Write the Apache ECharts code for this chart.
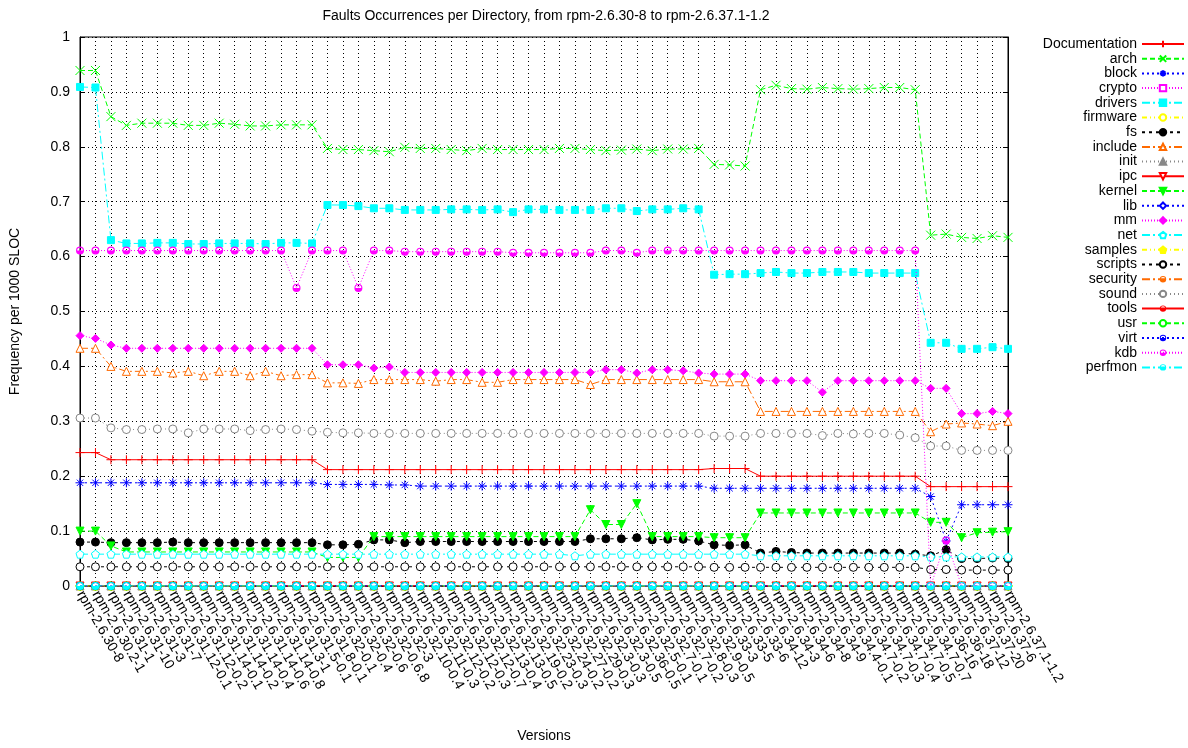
<!DOCTYPE html>
<html>
<head>
<meta charset="utf-8">
<script src="https://cdn.jsdelivr.net/npm/echarts@6/dist/echarts.min.js"></script>
<style>
  html, body { margin: 0; padding: 0; background: #fff; }
  #chart { width: 1188px; height: 748px; }
</style>
</head>
<body>
<div id="chart"></div>
<script>
// versions on the x axis
const versions = [
  'rpm-2.6.30-8', 'rpm-2.6.30.2-1', 'rpm-2.6.31-1', 'rpm-2.6.31-10', 'rpm-2.6.31-3', 'rpm-2.6.31-7',
  'rpm-2.6.31.12-0.1', 'rpm-2.6.31.12-0.2', 'rpm-2.6.31.14-0.1', 'rpm-2.6.31.14-0.2', 'rpm-2.6.31.14-0.4',
  'rpm-2.6.31.14-0.6', 'rpm-2.6.31.14-0.8', 'rpm-2.6.31.3-1', 'rpm-2.6.31.5-0.1', 'rpm-2.6.31.8-0.1',
  'rpm-2.6.32-0.1', 'rpm-2.6.32-0.4', 'rpm-2.6.32-0.6', 'rpm-2.6.32-0.6.8', 'rpm-2.6.32-3',
  'rpm-2.6.32.10-0.4', 'rpm-2.6.32.11-0.3', 'rpm-2.6.32.12-0.2', 'rpm-2.6.32.12-0.3', 'rpm-2.6.32.12-0.7',
  'rpm-2.6.32.13-0.4', 'rpm-2.6.32.13-0.5', 'rpm-2.6.32.19-0.2', 'rpm-2.6.32.23-0.3', 'rpm-2.6.32.24-0.2',
  'rpm-2.6.32.27-0.2', 'rpm-2.6.32.29-0.3', 'rpm-2.6.32.3-0.3', 'rpm-2.6.32.3-0.5', 'rpm-2.6.32.36-0.5',
  'rpm-2.6.32.5-0.1', 'rpm-2.6.32.7-0.1', 'rpm-2.6.32.7-0.2', 'rpm-2.6.32.8-0.3', 'rpm-2.6.32.9-0.5',
  'rpm-2.6.33-3', 'rpm-2.6.33-5', 'rpm-2.6.33-6',
  'rpm-2.6.34-12', 'rpm-2.6.34-3', 'rpm-2.6.34-6', 'rpm-2.6.34-8', 'rpm-2.6.34-9', 'rpm-2.6.34.4-0.1',
  'rpm-2.6.34.7-0.2', 'rpm-2.6.34.7-0.3', 'rpm-2.6.34.7-0.4', 'rpm-2.6.34.7-0.5', 'rpm-2.6.34.7-0.7',
  'rpm-2.6.36-16', 'rpm-2.6.36-18', 'rpm-2.6.37-12', 'rpm-2.6.37-20', 'rpm-2.6.37-6', 'rpm-2.6.37.1-1.2'
];

const yTicks = ['0', '0.1', '0.2', '0.3', '0.4', '0.5', '0.6', '0.7', '0.8', '0.9', '1'];

const documentation = [
  0.243, 0.243, 0.230, 0.230, 0.230, 0.230, 0.230, 0.230, 0.230, 0.230, 0.230, 0.230, 0.230, 0.230, 0.230, 0.230,
  0.212, 0.212, 0.212, 0.212, 0.212, 0.212, 0.212, 0.212, 0.212, 0.212, 0.212, 0.212, 0.212, 0.212, 0.212, 0.212,
  0.212, 0.212, 0.212, 0.212, 0.212, 0.212, 0.212, 0.212, 0.212,
  0.214, 0.214, 0.214,
  0.200, 0.200, 0.200, 0.200, 0.200, 0.200, 0.200, 0.200, 0.200, 0.200, 0.200,
  0.181, 0.181, 0.181, 0.181, 0.181, 0.181
];
const arch = [
  0.939, 0.939, 0.855, 0.839, 0.843, 0.843, 0.843, 0.839, 0.839, 0.843, 0.841, 0.838, 0.838, 0.840, 0.840, 0.840,
  0.797, 0.795, 0.795, 0.793, 0.791, 0.799, 0.797, 0.797, 0.795, 0.793, 0.797, 0.795, 0.795, 0.795, 0.795, 0.797,
  0.797, 0.795, 0.793, 0.794, 0.796, 0.793, 0.796, 0.796, 0.797,
  0.768, 0.767, 0.765,
  0.904, 0.912, 0.906, 0.905, 0.908, 0.906, 0.905, 0.906, 0.908, 0.908, 0.904,
  0.639, 0.641, 0.635, 0.633, 0.638, 0.635
];
const block = [
  0.188, 0.188, 0.188, 0.188, 0.188, 0.188, 0.188, 0.188, 0.188, 0.188, 0.188, 0.188, 0.188, 0.188, 0.188, 0.188,
  0.185, 0.185, 0.185, 0.185, 0.184, 0.184, 0.182, 0.182, 0.182, 0.182, 0.182, 0.182, 0.182, 0.182, 0.182, 0.182,
  0.182, 0.182, 0.182, 0.182, 0.182, 0.182, 0.182, 0.182, 0.182,
  0.178, 0.178, 0.178,
  0.178, 0.178, 0.178, 0.178, 0.178, 0.178, 0.178, 0.178, 0.178, 0.178, 0.178,
  0.163, 0.082, 0.148, 0.148, 0.148, 0.148
];
const drivers = [
  0.909, 0.908, 0.630, 0.624, 0.624, 0.625, 0.625, 0.623, 0.623, 0.624, 0.624, 0.624, 0.623, 0.625, 0.625, 0.624,
  0.694, 0.694, 0.692, 0.688, 0.688, 0.685, 0.685, 0.685, 0.686, 0.686, 0.685, 0.686, 0.681, 0.686, 0.686, 0.685,
  0.685, 0.685, 0.688, 0.688, 0.683, 0.686, 0.686, 0.688, 0.686,
  0.567, 0.568, 0.568,
  0.570, 0.572, 0.570, 0.570, 0.572, 0.572, 0.572, 0.570, 0.570, 0.570, 0.570,
  0.443, 0.443, 0.432, 0.432, 0.435, 0.432
];
const fs = [
  0.080, 0.080, 0.079, 0.079, 0.079, 0.079, 0.080, 0.079, 0.079, 0.079, 0.079, 0.079, 0.079, 0.079, 0.079, 0.079,
  0.075, 0.075, 0.076, 0.084, 0.084, 0.079, 0.081, 0.081, 0.081, 0.081, 0.081, 0.081, 0.081, 0.081, 0.081, 0.081,
  0.081, 0.086, 0.086, 0.086, 0.088, 0.084, 0.085, 0.085, 0.082,
  0.075, 0.074, 0.075,
  0.060, 0.063, 0.061, 0.060, 0.060, 0.060, 0.060, 0.060, 0.060, 0.060, 0.058,
  0.055, 0.066, 0.050, 0.050, 0.051, 0.050
];
const include = [
  0.433, 0.433, 0.400, 0.391, 0.391, 0.391, 0.388, 0.391, 0.383, 0.391, 0.391, 0.383, 0.391, 0.383, 0.385, 0.385,
  0.370, 0.370, 0.369, 0.376, 0.376, 0.376, 0.376, 0.373, 0.376, 0.376, 0.371, 0.371, 0.376, 0.376, 0.376, 0.376,
  0.376, 0.367, 0.376, 0.376, 0.376, 0.376, 0.376, 0.376, 0.376,
  0.372, 0.372, 0.372,
  0.318, 0.318, 0.318, 0.318, 0.318, 0.318, 0.318, 0.318, 0.318, 0.318, 0.318,
  0.281, 0.295, 0.297, 0.295, 0.292, 0.300
];
const kernel = [
  0.100, 0.100, 0.073, 0.062, 0.062, 0.062, 0.062, 0.062, 0.062, 0.062, 0.062, 0.062, 0.062, 0.062, 0.062, 0.062,
  0.052, 0.052, 0.052, 0.090, 0.090, 0.090, 0.090, 0.090, 0.090, 0.090, 0.090, 0.090, 0.090, 0.090, 0.090, 0.090,
  0.090, 0.139, 0.112, 0.112, 0.150, 0.090, 0.090, 0.090, 0.090,
  0.088, 0.088, 0.088,
  0.133, 0.133, 0.133, 0.133, 0.133, 0.133, 0.133, 0.133, 0.133, 0.133, 0.133,
  0.116, 0.116, 0.088, 0.097, 0.098, 0.099
];
const mm = [
  0.456, 0.451, 0.439, 0.433, 0.433, 0.433, 0.433, 0.433, 0.433, 0.433, 0.433, 0.433, 0.433, 0.433, 0.433, 0.433,
  0.403, 0.403, 0.403, 0.397, 0.399, 0.389, 0.389, 0.389, 0.389, 0.389, 0.389, 0.389, 0.389, 0.389, 0.389, 0.389,
  0.389, 0.389, 0.394, 0.394, 0.388, 0.394, 0.394, 0.392, 0.388,
  0.386, 0.386, 0.386,
  0.374, 0.374, 0.374, 0.374, 0.353, 0.374, 0.374, 0.374, 0.374, 0.374, 0.374,
  0.360, 0.360, 0.314, 0.314, 0.318, 0.314
];
const net = [
  0.058, 0.058, 0.058, 0.058, 0.058, 0.058, 0.058, 0.058, 0.058, 0.058, 0.058, 0.058, 0.058, 0.058, 0.058, 0.058,
  0.058, 0.058, 0.058, 0.058, 0.058, 0.058, 0.058, 0.058, 0.058, 0.058, 0.058, 0.058, 0.058, 0.058, 0.058, 0.058,
  0.055, 0.058, 0.058, 0.058, 0.058, 0.058, 0.058, 0.058, 0.058,
  0.058, 0.058, 0.058,
  0.055, 0.055, 0.055, 0.055, 0.055, 0.055, 0.055, 0.055, 0.055, 0.055, 0.055,
  0.053, 0.053, 0.053, 0.053, 0.053, 0.053
];
const scripts = [
  0.035, 0.035, 0.035, 0.035, 0.035, 0.035, 0.035, 0.035, 0.035, 0.035, 0.035, 0.035, 0.035, 0.035, 0.035, 0.035,
  0.035, 0.035, 0.035, 0.035, 0.035, 0.035, 0.035, 0.035, 0.035, 0.035, 0.035, 0.035, 0.035, 0.035, 0.035, 0.035,
  0.035, 0.035, 0.035, 0.035, 0.035, 0.035, 0.035, 0.035, 0.035,
  0.034, 0.034, 0.034,
  0.034, 0.034, 0.034, 0.034, 0.034, 0.034, 0.034, 0.034, 0.034, 0.034, 0.034,
  0.030, 0.030, 0.029, 0.029, 0.029, 0.029
];
const sound = [
  0.306, 0.306, 0.288, 0.285, 0.285, 0.286, 0.286, 0.279, 0.286, 0.286, 0.286, 0.283, 0.285, 0.286, 0.285, 0.282,
  0.280, 0.279, 0.279, 0.278, 0.278, 0.278, 0.278, 0.278, 0.278, 0.278, 0.278, 0.278, 0.278, 0.278, 0.278, 0.278,
  0.278, 0.278, 0.278, 0.278, 0.278, 0.278, 0.278, 0.278, 0.278,
  0.273, 0.273, 0.273,
  0.278, 0.278, 0.278, 0.278, 0.274, 0.278, 0.277, 0.278, 0.278, 0.275, 0.270,
  0.255, 0.255, 0.247, 0.247, 0.247, 0.247
];
const kdb = [
  0.611, 0.611, 0.611, 0.611, 0.611, 0.611, 0.611, 0.611, 0.611, 0.611, 0.611, 0.611, 0.611, 0.611, 0.543, 0.611,
  0.611, 0.611, 0.543, 0.611, 0.611, 0.609, 0.609, 0.609, 0.609, 0.609, 0.609, 0.609, 0.607, 0.607, 0.607, 0.607,
  0.607, 0.607, 0.611, 0.611, 0.607, 0.611, 0.611, 0.611, 0.611,
  0.611, 0.611, 0.611,
  0.611, 0.611, 0.611, 0.611, 0.611, 0.611, 0.611, 0.611, 0.611, 0.611, 0.611,
  0, 0.083, 0, 0, 0, 0
];
// directories with no faults in any version
const noFaults = [
  0, 0, 0, 0, 0, 0, 0, 0, 0, 0, 0, 0, 0, 0, 0, 0, 0, 0, 0, 0, 0, 0, 0, 0, 0, 0, 0, 0, 0, 0, 0,
  0, 0, 0, 0, 0, 0, 0, 0, 0, 0, 0, 0, 0, 0, 0, 0, 0, 0, 0, 0, 0, 0, 0, 0, 0, 0, 0, 0, 0, 0
];

// gnuplot style cycle: colour + dash pattern per line type
const palette = ['#ff0000', '#00ff00', '#0000ff', '#ff00ff', '#00ffff', '#ffff00', '#000000', '#ff6a00', '#888888'];
const dashes = ['solid', [5, 3], [2, 3], [1, 2], [8, 3, 2, 3], [5, 3, 1, 3, 1, 3], [3, 4], [8, 3, 2, 3], [1, 3]];

const P = {
  plus: 'path://M0,5L10,5M5,0L5,10',
  cross: 'path://M0,0L10,10M10,0L0,10',
  star: 'path://M0,5L10,5M5,0L5,10M1.5,1.5L8.5,8.5M8.5,1.5L1.5,8.5',
  tri: 'triangle',
  itri: 'path://M0,0L10,0L5,9Z',
  penta: 'path://M5,0L10,3.8L8.1,10L1.9,10L0,3.8Z',
  // ring with the lower half filled, like gnuplot's partly filled circles
  half: 'path://M0,5A5,5,0,1,1,10,5A5,5,0,1,1,0,5ZM1.4,5A3.6,3.6,0,1,0,8.6,5A3.6,3.6,0,1,0,1.4,5ZM1.4,5L8.6,5A3.6,3.6,0,0,1,1.4,5Z'
};

// name, data, symbol, fill kind
const defs = [
  ['Documentation', documentation, P.plus, 'line'],
  ['arch', arch, P.cross, 'line'],
  ['block', block, P.star, 'line'],
  ['crypto', noFaults, 'rect', 'open'],
  ['drivers', drivers, 'rect', 'fill'],
  ['firmware', noFaults, 'circle', 'open'],
  ['fs', fs, 'circle', 'fill'],
  ['include', include, P.tri, 'open'],
  ['init', noFaults, P.tri, 'fill'],
  ['ipc', noFaults, P.itri, 'open'],
  ['kernel', kernel, P.itri, 'fill'],
  ['lib', noFaults, 'diamond', 'open'],
  ['mm', mm, 'diamond', 'fill'],
  ['net', net, P.penta, 'open'],
  ['samples', noFaults, P.penta, 'fill'],
  ['scripts', scripts, 'circle', 'open'],
  ['security', noFaults, P.half, 'half'],
  ['sound', sound, 'circle', 'open'],
  ['tools', noFaults, P.half, 'half'],
  ['usr', noFaults, 'circle', 'open'],
  ['virt', noFaults, P.half, 'half'],
  ['kdb', kdb, P.half, 'half'],
  ['perfmon', noFaults, P.half, 'half']
];

const series = defs.map(function (d, i) {
  const c = palette[i % 9];
  let fill = c;
  if (d[3] === 'open') fill = '#ffffff';
  const isLine = d[3] === 'line';
  const isHalf = d[3] === 'half';
  return {
    name: d[0],
    type: 'line',
    data: d[1],
    color: c,
    symbol: d[2],
    symbolSize: d[2] === 'rect' ? 7 : (isLine ? 9 : 8),
    showAllSymbol: true,
    z: 2 + i,
    lineStyle: { color: c, width: 1, type: dashes[i % 9] },
    itemStyle: {
      color: isLine ? 'none' : fill,
      borderColor: c,
      borderWidth: isHalf ? 0 : 1
    },
    emphasis: { disabled: true },
    animation: false
  };
});

const fontFamily = 'Liberation Sans, Arial, sans-serif';
const chart = echarts.init(document.getElementById('chart'));
chart.setOption({
  animation: false,
  backgroundColor: '#ffffff',
  textStyle: { fontFamily: fontFamily },
  title: {
    text: 'Faults Occurrences per Directory, from rpm-2.6.30-8 to rpm-2.6.37.1-1.2',
    left: 541,
    top: 4,
    textAlign: 'center',
    textStyle: { fontSize: 14, fontWeight: 'normal', color: '#000', fontFamily: fontFamily }
  },
  legend: {
    orient: 'vertical',
    align: 'right',
    right: 3,
    top: 37,
    padding: 0,
    itemWidth: 42,
    itemHeight: 8,
    itemGap: 0.7,
    textStyle: { fontSize: 14, color: '#000', lineHeight: 14, fontFamily: fontFamily },
    data: defs.map(function (d) { return d[0]; })
  },
  grid: {
    left: 75,
    right: 180,
    top: 37,
    bottom: 161,
    show: true,
    borderColor: '#000',
    borderWidth: 1,
    containLabel: false
  },
  xAxis: [{
    type: 'category',
    data: versions,
    boundaryGap: false,
    name: 'Versions',
    nameLocation: 'middle',
    nameGap: 143,
    nameTextStyle: { fontSize: 14, color: '#000' },
    axisLine: { lineStyle: { color: '#000' } },
    axisTick: { inside: true, length: 5, lineStyle: { color: '#000' } },
    axisLabel: { rotate: -60, interval: 0, fontSize: 14, color: '#000', margin: 6 },
    splitLine: { show: true, lineStyle: { color: '#000', type: [1, 3], width: 1 } }
  }, {
    // mirrored ticks on the top border
    type: 'category',
    position: 'top',
    data: versions,
    boundaryGap: false,
    axisLine: { lineStyle: { color: '#000' } },
    axisTick: { inside: true, length: 5, interval: 0, lineStyle: { color: '#000' } },
    axisLabel: { show: false },
    splitLine: { show: false }
  }],
  yAxis: [{
    type: 'value',
    min: 0,
    max: 1,
    interval: 0.1,
    name: 'Frequency per 1000 SLOC',
    nameLocation: 'middle',
    nameGap: 58,
    nameTextStyle: { fontSize: 14, color: '#000' },
    axisLine: { show: true, lineStyle: { color: '#000' } },
    axisTick: { show: true, inside: true, length: 5, lineStyle: { color: '#000' } },
    axisLabel: {
      fontSize: 14,
      color: '#000',
      margin: 10,
      formatter: function (v) { return yTicks[Math.round(v * 10)]; }
    },
    splitLine: { show: true, lineStyle: { color: '#000', type: [1, 3], width: 1 } }
  }, {
    // mirrored ticks on the right border
    type: 'value',
    position: 'right',
    min: 0,
    max: 1,
    interval: 0.1,
    axisLine: { show: true, lineStyle: { color: '#000' } },
    axisTick: { show: true, inside: true, length: 5, lineStyle: { color: '#000' } },
    axisLabel: { show: false },
    splitLine: { show: false }
  }],
  series: series
});
</script>
</body>
</html>
